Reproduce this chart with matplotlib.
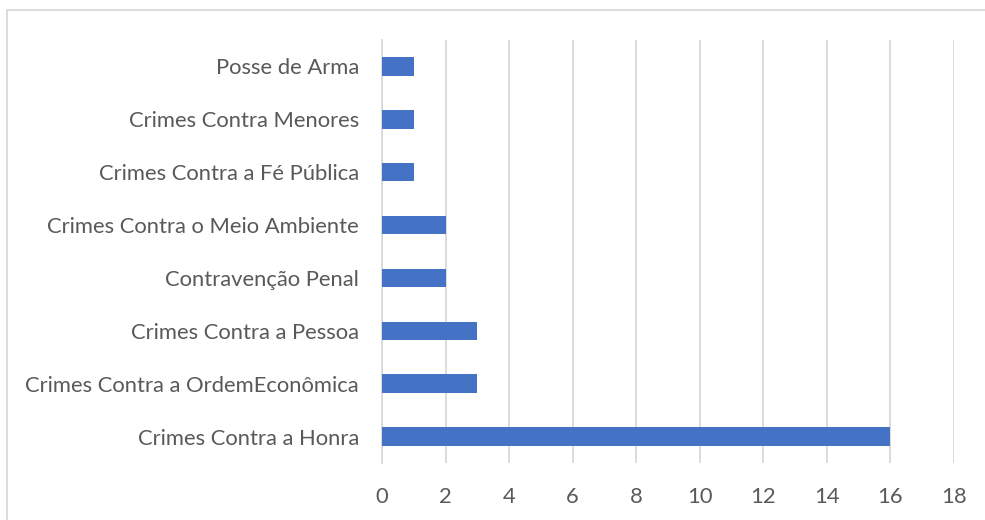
import matplotlib
matplotlib.use("Agg")
import matplotlib.pyplot as plt
from matplotlib.patches import Rectangle

categories = ["Crimes Contra a Honra", "Crimes Contra a OrdemEconômica", "Crimes Contra a Pessoa",
              "Contravenção Penal", "Crimes Contra o Meio Ambiente", "Crimes Contra a Fé Pública",
              "Crimes Contra Menores", "Posse de Arma"]
values = [16, 3, 3, 2, 2, 1, 1, 1]
xticks = [0, 2, 4, 6, 8, 10, 12, 14, 16, 18]

plt.rcParams['font.family'] = ['Lato', 'DejaVu Sans']
fig = plt.figure(figsize=(9.85, 5.2), dpi=100)
ax = fig.add_axes([382/985, 1-463/520, (953.7-382)/985, (463-40)/520])

ypos = list(range(len(categories)))
ax.barh(ypos, values, height=0.35, color="#4472C4", zorder=3)
ax.set_ylim(-0.5, len(categories)-0.5)
ax.set_xlim(0, 18)
ax.set_xticks(xticks)
ax.set_xticklabels([str(t) for t in xticks])
ax.set_yticks(ypos)
ax.set_yticklabels(categories)
ax.grid(axis='x', color="#D9D9D9", linewidth=1.3, zorder=0)
for s in ['top', 'right', 'bottom']:
    ax.spines[s].set_visible(False)
ax.spines['left'].set_color("#D9D9D9")
ax.spines['left'].set_linewidth(1.3)
ax.tick_params(axis='both', length=0, labelsize=15.8, colors="#595959")
ax.tick_params(axis='x', pad=17)
ax.tick_params(axis='y', pad=16.5)

fig.patches.append(Rectangle((7/985, -0.1), 1.1, 1-10/520+0.1, transform=fig.transFigure,
                             fill=False, edgecolor="#D9D9D9", linewidth=1.3))
fig.savefig("out.png", dpi=100)
